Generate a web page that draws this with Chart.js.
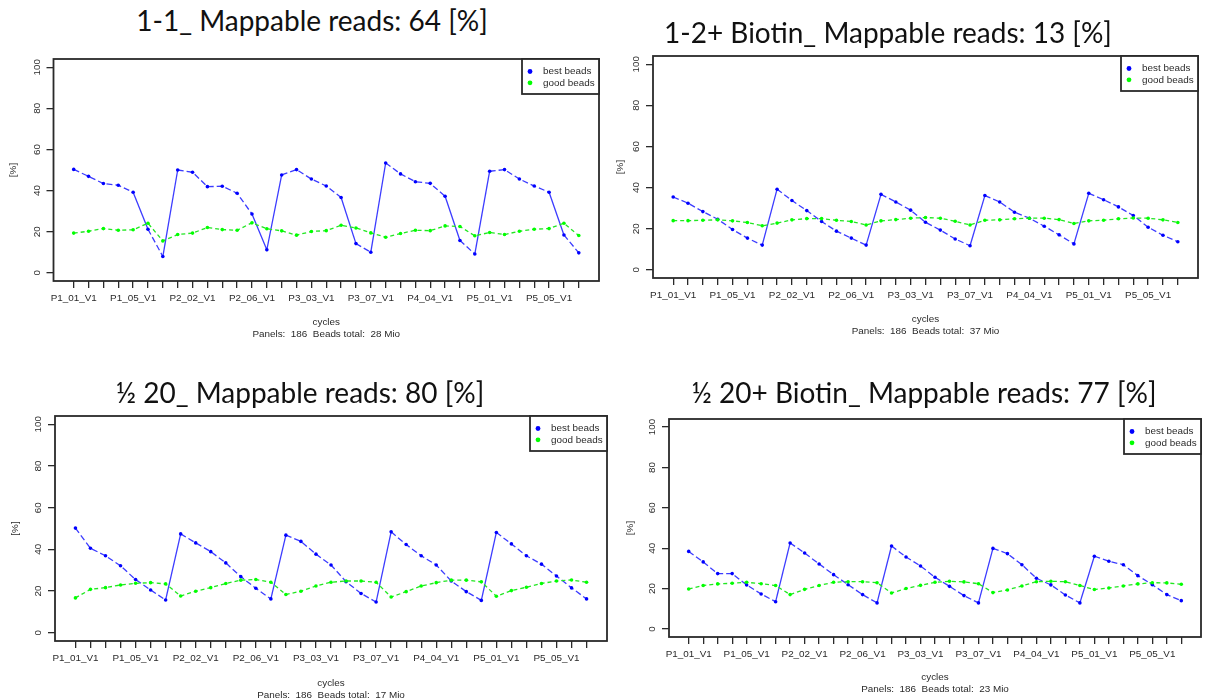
<!DOCTYPE html>
<html>
<head>
<meta charset="utf-8">
<script src="https://cdn.jsdelivr.net/npm/chart.js@4.4.0/dist/chart.umd.min.js"></script>
<style>
html,body{margin:0;padding:0;background:#fff;overflow:hidden;}
body{width:1205px;height:700px;position:relative;}
.ttl{position:absolute;font-family:Lato,"Open Sans",sans-serif;font-size:28px;color:#111;white-space:nowrap;transform:translate(-50%,-50%);z-index:2;}
.pane{position:absolute;}
</style>
</head>
<body>

<script>
// cycles on the x axis
const cycles = [
'P1_01_V1','P1_02_V1','P1_03_V1','P1_04_V1','P1_05_V1','P1_06_V1','P1_07_V1',
'P2_01_V1','P2_02_V1','P2_03_V1','P2_04_V1','P2_05_V1','P2_06_V1','P2_07_V1',
'P3_01_V1','P3_02_V1','P3_03_V1','P3_04_V1','P3_05_V1','P3_06_V1','P3_07_V1',
'P4_01_V1','P4_02_V1','P4_03_V1','P4_04_V1','P4_05_V1','P4_06_V1','P4_07_V1',
'P5_01_V1','P5_02_V1','P5_03_V1','P5_04_V1','P5_05_V1','P5_06_V1','P5_07_V1'
];
const shownCycles = ['P1_01_V1','P1_05_V1','P2_02_V1','P2_06_V1','P3_03_V1','P3_07_V1','P4_04_V1','P5_01_V1','P5_05_V1'];
const yTicks = [0,20,40,60,80,100];
const seriesNames = ['best beads','good beads'];

// 1-1
const best1 = [50.3,46.9,43.4,42.6,39.2,21.2,7.9, 50.0,48.9,41.9,42.1,38.7,28.6,11.2, 47.6,50.2,45.6,42.2,36.6,14.2,10.0, 53.4,48.1,44.3,43.5,37.2,15.7,9.1, 49.4,50.2,45.6,42.2,39.2,18.4,9.7];
const good1 = [19.3,20.2,21.5,20.7,20.9,24.1,15.5, 18.6,19.3,22.0,21.0,20.7,24.3,21.4, 20.4,18.3,20.1,20.5,23.1,21.8,19.4, 17.3,19.1,20.7,20.5,22.8,22.5,18.0, 19.6,18.6,20.2,21.2,21.5,24.1,18.1];
// 1-2+ Biotin
const best2 = [35.4,32.4,28.3,24.6,19.6,15.4,12.0, 39.2,33.7,28.8,23.5,18.8,15.4,12.0, 36.7,33.0,29.0,23.1,19.3,15.0,11.7, 36.1,33.0,28.0,25.1,21.2,17.0,12.6, 37.2,34.1,30.6,26.4,20.7,16.8,13.6];
const good2 = [23.9,23.9,24.1,24.3,23.8,23.0,21.4, 22.7,24.3,24.9,24.9,24.1,23.5,21.8, 23.8,24.4,25.1,25.4,25.1,23.6,21.8, 24.1,24.3,24.8,25.1,25.1,24.4,22.5, 23.8,24.1,24.8,25.2,25.1,24.3,23.0];
// 1/2 20
const best3 = [50.2,40.5,36.9,32.1,25.5,20.5,15.7, 47.4,43.1,38.9,33.5,26.9,21.3,16.2, 46.8,43.8,37.7,32.5,24.5,18.8,14.7, 48.4,42.3,36.9,32.5,24.8,19.7,15.5, 48.1,42.6,36.9,32.9,27.2,21.5,16.2];
const good3 = [16.7,20.8,21.6,22.9,23.7,24.0,23.4, 17.6,19.9,21.6,23.6,25.2,25.5,24.2, 18.3,19.9,22.4,24.2,24.8,24.8,24.2, 17.1,19.7,22.4,24.0,25.2,25.2,24.4, 17.5,20.2,21.8,23.6,24.8,25.3,24.2];
// 1/2 20+ Biotin
const best4 = [38.4,33.2,27.4,27.4,21.8,17.3,13.5, 42.6,37.6,32.2,26.9,21.9,17.0,12.9, 41.1,35.6,31.2,25.6,21.1,16.5,12.9, 39.9,37.3,31.8,25.1,21.8,16.8,12.9, 36.0,33.5,31.8,26.4,21.9,17.0,14.0];
const good4 = [19.8,21.5,22.3,22.6,23.1,22.4,21.5, 17.0,19.6,21.5,23.1,23.4,23.4,22.9, 17.8,20.0,21.6,23.1,23.6,23.3,22.4, 18.0,19.3,21.3,23.4,23.6,23.4,21.5, 19.5,20.3,21.3,22.3,22.9,22.8,22.1];

const titles = ['1-1_ Mappable reads: 64 [%]','1-2+ Biotin_ Mappable reads: 13 [%]','½ 20_ Mappable reads: 80 [%]','½ 20+ Biotin_ Mappable reads: 77 [%]'];
const footers = ['Panels:  186  Beads total:  28 Mio','Panels:  186  Beads total:  37 Mio','Panels:  186  Beads total:  17 Mio','Panels:  186  Beads total:  23 Mio'];

// layout of the four panels (pixels)
const panes = [
  {best:best1, good:good1, box:[0,40,605,310],   yw:53.5, xh:59,   pad:{top:19,right:6,bottom:10,left:0},  ytp:7, t:[312,20]},
  {best:best2, good:good2, box:[605,40,600,310], yw:48,   xh:59,   pad:{top:16,right:7,bottom:13,left:0},  ytp:9, t:[888,32]},
  {best:best3, good:good3, box:[0,400,615,310],  yw:55,   xh:60.3, pad:{top:16,right:8,bottom:8.7,left:0}, ytp:9, t:[300,392]},
  {best:best4, good:good4, box:[615,405,590,305],yw:54,   xh:58.3, pad:{top:14,right:1,bottom:14.7,left:0},ytp:9, t:[924,392]}
];

const small = {family:'"Liberation Sans", Arial, sans-serif', size:9.9};
const ink = '#2a2a2a';

// long steep segments look solid in the original, short ones dashed
function dash(pattern){
  return ctx => Math.hypot(ctx.p1.x-ctx.p0.x, ctx.p1.y-ctx.p0.y) > 34 ? [] : pattern;
}

const frameLegend = {
  id:'frameLegend',
  afterDraw(chart){
    const {ctx, chartArea:a} = chart;
    ctx.save();
    ctx.strokeStyle = ink;
    ctx.lineWidth = 1.8;
    ctx.strokeRect(a.left, a.top, a.width, a.height);
    const w = 77, h = 35, x = a.right - w, y = a.top;
    ctx.fillStyle = '#fff';
    ctx.fillRect(x, y, w, h);
    ctx.strokeRect(x, y, w, h);
    ctx.font = small.size + 'px ' + small.family;
    ctx.textBaseline = 'middle';
    ctx.textAlign = 'left';
    chart.data.datasets.forEach((ds,k)=>{
      const yy = y + 12.5 + k*11.3;
      ctx.fillStyle = ds.pointBackgroundColor;
      ctx.beginPath(); ctx.arc(x+8, yy, 2.4, 0, Math.PI*2); ctx.fill();
      ctx.fillStyle = ink;
      ctx.fillText(ds.label, x+21, yy);
    });
    ctx.restore();
  }
};

panes.forEach((p,n)=>{
  const t = document.createElement('div');
  t.className = 'ttl';
  t.style.left = p.t[0]+'px'; t.style.top = p.t[1]+'px';
  t.textContent = titles[n];
  document.body.appendChild(t);

  const d = document.createElement('div');
  d.className = 'pane';
  d.style.left = p.box[0]+'px'; d.style.top = p.box[1]+'px';
  d.style.width = p.box[2]+'px'; d.style.height = p.box[3]+'px';
  const c = document.createElement('canvas');
  d.appendChild(c);
  document.body.appendChild(d);

  new Chart(c, {
    type:'line',
    data:{
      datasets:[
        {
          label:seriesNames[0],
          data:p.best.map((v,i)=>({x:i,y:v})),
          borderColor:'#3c3cff', borderWidth:1.3,
          pointBackgroundColor:'#0000ff', pointBorderWidth:0, pointRadius:1.8,
          segment:{borderDash:dash([6,3])},
          order:1
        },
        {
          label:seriesNames[1],
          data:p.good.map((v,i)=>({x:i,y:v})),
          borderColor:'#22e622', borderWidth:1.3,
          pointBackgroundColor:'#00ff00', pointBorderWidth:0, pointRadius:1.8,
          segment:{borderDash:dash([4,3])},
          order:0
        }
      ]
    },
    options:{
      animation:false,
      responsive:true,
      maintainAspectRatio:false,
      layout:{padding:p.pad},
      plugins:{legend:{display:false}, tooltip:{enabled:false}},
      scales:{
        x:{
          type:'linear', min:-1.36, max:35.36,
          afterBuildTicks:s=>{ s.ticks = cycles.map((_,i)=>({value:i})); },
          afterFit:s=>{ s.height = p.xh; },
          grid:{display:true, drawOnChartArea:false, drawTicks:true, tickLength:7, tickColor:ink, lineWidth:1.3},
          border:{display:false},
          ticks:{autoSkip:false, maxRotation:0, minRotation:0, padding:4, font:small, color:ink,
            callback:v=> shownCycles.includes(cycles[v]) ? cycles[v] : ''},
          title:{display:true, text:['cycles', footers[n]], font:small, color:ink, padding:{top:0,bottom:0}}
        },
        y:{
          type:'linear', min:-4, max:104,
          afterBuildTicks:s=>{ s.ticks = yTicks.map(v=>({value:v})); },
          afterFit:s=>{ s.width = p.yw; },
          grid:{display:true, drawOnChartArea:false, drawTicks:true, tickLength:7, tickColor:ink, lineWidth:1.3},
          border:{display:false},
          ticks:{minRotation:90, maxRotation:90, crossAlign:'center', padding:1, font:small, color:ink, autoSkip:false},
          title:{display:true, text:'[%]', font:small, color:ink, padding:{top:p.ytp,bottom:0}}
        }
      }
    },
    plugins:[frameLegend]
  });
});
</script>
</body>
</html>
